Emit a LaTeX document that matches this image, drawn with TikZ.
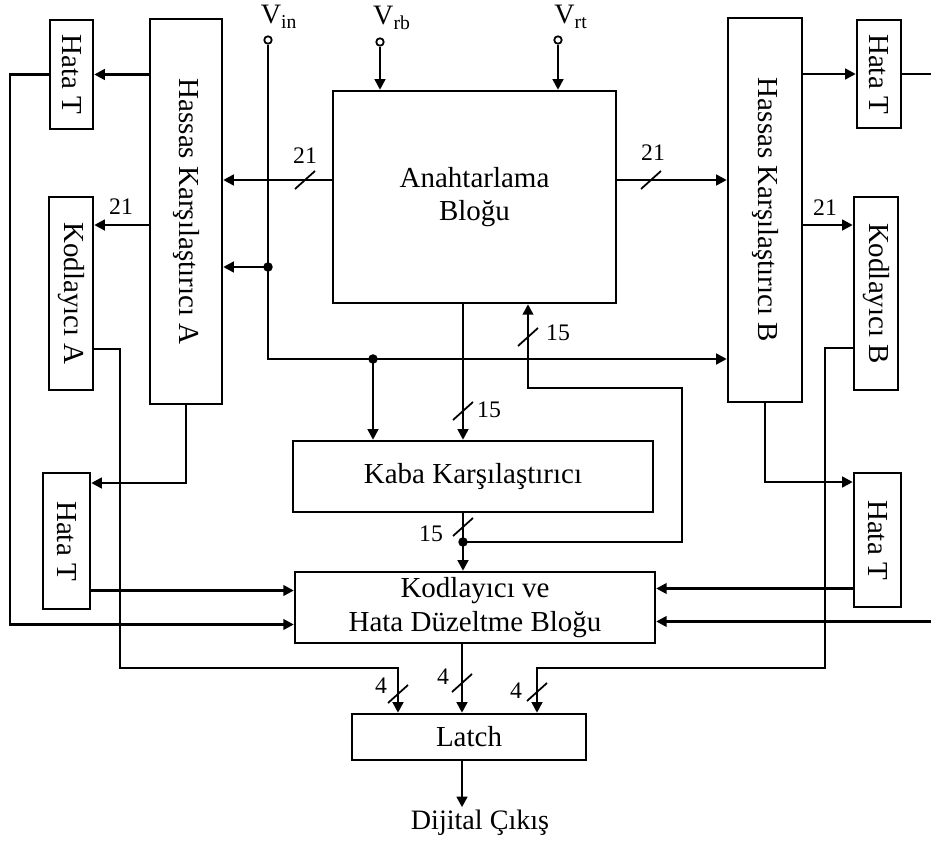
\documentclass[tikz,border=0pt]{standalone}
\usepackage{fontspec}
\usepackage{graphicx}
\setmainfont{Liberation Serif}
\usetikzlibrary{arrows.meta}

\begin{document}
\begin{tikzpicture}[
    x=0.02cm, y=-0.02cm,
    line width=1.4pt,
    box/.style  = {draw, rectangle, inner sep=2pt, align=center,
                   font=\fontsize{16.5}{19}\selectfont},
    arr/.style  = {-{Triangle[length=6pt,width=6pt]}},
    num/.style  = {font=\fontsize{13.5}{15}\selectfont, inner sep=1pt},
    txt/.style  = {font=\fontsize{16}{19}\selectfont, inner sep=1pt},
    vlab/.style = {font=\fontsize{16}{17}\selectfont, inner sep=1pt},
    term/.style = {draw, circle, line width=1pt, inner sep=0pt,
                   minimum size=0.15cm, fill=white},
    dot/.style  = {circle, fill, inner sep=0pt, minimum size=0.19cm},
    bus/.pic    = {\draw[line width=1pt] (-10,9) -- (10,-9);}
  ]
    \useasboundingbox (0,0) rectangle (931,844);

    % blocks
    \node[box, minimum width=5.66cm, minimum height=4.24cm] (anah) at (474.5,197)
          {Anahtarlama\\Bloğu};
    \node[box, minimum width=1.44cm, minimum height=7.7cm]  (hassasA) at (186,211.5)
          {\rotatebox{-90}{Hassas Karşılaştırıcı A}};
    \node[box, minimum width=1.48cm, minimum height=7.68cm] (hassasB) at (765,210)
          {\rotatebox{-90}{Hassas Karşılaştırıcı B}};
    \node[box, minimum width=0.86cm, minimum height=2.18cm] (hataTL) at (71.5,74.5)
          {\rotatebox{-90}{Hata T}};
    \node[box, minimum width=0.88cm, minimum height=2.16cm] (hataTR) at (879,74)
          {\rotatebox{-90}{Hata T}};
    \node[box, minimum width=0.88cm, minimum height=3.86cm] (kodA) at (71,293.5)
          {\rotatebox{-90}{Kodlayıcı A}};
    \node[box, minimum width=0.88cm, minimum height=3.86cm] (kodB) at (876,293.5)
          {\rotatebox{-90}{Kodlayıcı B}};
    \node[box, minimum width=0.94cm, minimum height=2.72cm] (hataBL) at (66.5,541)
          {\rotatebox{-90}{Hata T}};
    \node[box, minimum width=0.94cm, minimum height=2.68cm] (hataBR) at (877.5,540)
          {\rotatebox{-90}{Hata T}};
    \node[box, minimum width=7.2cm, minimum height=1.42cm]  (kaba) at (473,476.5)
          {Kaba Karşılaştırıcı};
    \node[box, minimum width=7.2cm, minimum height=1.42cm]  (kod) at (475,607.5)
          {Kodlayıcı ve\\Hata Düzeltme Bloğu};
    \node[box, minimum width=4.68cm, minimum height=0.92cm] (latch) at (469,737)
          {Latch};
    \node[txt] (out) at (480,823) {Dijital Çıkış};

    % inputs
    \node[term] (vin) at (268,40) {};
    \node[term] (vrb) at (380,42) {};
    \node[term] (vrt) at (558,40) {};
    \node[vlab] (vinL) at (279,17) {V\textsubscript{in}};
    \node[vlab] (vrbL) at (392,18) {V\textsubscript{rb}};
    \node[vlab] (vrtL) at (571,17) {V\textsubscript{rt}};

    % helper points
    \coordinate (lft) at (10,0);
    \coordinate (rgt) at (931,0);
    \coordinate (vinJ1) at (268,267);
    \coordinate (vinJ2) at (373,359);
    \coordinate (busL) at (305,180);
    \coordinate (busR) at (651,180);
    \coordinate (busD) at (463,411);
    \coordinate (busK) at (463,527);
    \coordinate (fb)   at (463,542);
    \coordinate (fbR)  at (682,388);
    \coordinate (busF) at (528,337);
    \coordinate (colA) at (120,668);
    \coordinate (colB) at (825,668);
    \coordinate (busA) at (398,694);
    \coordinate (busM) at (462,683);
    \coordinate (busB) at (537,692);
    \coordinate (kodW1) at ([yshift=0.34cm]kod.west);
    \coordinate (kodW2) at ([yshift=-0.34cm]kod.west);
    \coordinate (kodE1) at ([yshift=0.38cm]kod.east);
    \coordinate (kodE2) at ([yshift=-0.28cm]kod.east);
    \coordinate (kAin)  at ([yshift=1.37cm]kodA.east);
    \coordinate (kBin)  at ([yshift=1.37cm]kodB.west);
    \coordinate (kAout) at ([yshift=-1.11cm]kodA.east);
    \coordinate (kBout) at ([yshift=-1.09cm]kodB.west);
    \coordinate (hBLin) at ([yshift=1.16cm]hataBL.east);
    \coordinate (hBRin) at ([yshift=1.16cm]hataBR.west);

    % reference and input lines
    \draw[arr] (vrb) -- (vrb |- anah.north);
    \draw[arr] (vrt) -- (vrt |- anah.north);
    \draw[arr] (vin) |- (vinJ2 -| hassasB.west);
    \draw[arr] (vinJ1) -- (vinJ1 -| hassasA.east);
    \draw[arr] (vinJ2) -- (vinJ2 |- kaba.north);

    % switching block outputs
    \draw[arr] (busL -| anah.west) -- (busL -| hassasA.east);
    \draw[arr] (busR -| anah.east) -- (busR -| hassasB.west);
    \draw[arr] (busD |- anah.south) -- (busD |- kaba.north);
    \draw[arr] (busK |- kaba.south) -- (busK |- kod.north);
    \draw[arr] (fb) -| (fbR) -| (busF |- anah.south);

    % left side
    \draw[arr] (hataTL.east -| hassasA.west) -- (hataTL.east);
    \draw[arr] (hataTL.west) -| (lft |- kodW2) -- (kodW2);
    \draw[arr] (kAin -| hassasA.west) -- (kAin);
    \draw[arr] (hassasA.south) |- (hBLin);
    \draw[arr] (hataBL.east |- kodW1) -- (kodW1);
    \draw[arr] (kAout) -| (colA) -| (busA |- latch.north);

    % right side
    \draw[arr] (hataTR.west -| hassasB.east) -- (hataTR.west);
    \draw (hataTR.east) -- (hataTR.east -| rgt);
    \draw[arr] (rgt |- kodE2) -- (kodE2);
    \draw[arr] (kBin -| hassasB.east) -- (kBin);
    \draw[arr] (hassasB.south) |- (hBRin);
    \draw[arr] (hataBR.west |- kodE1) -- (kodE1);
    \draw[arr] (kBout) -| (colB) -| (busB |- latch.north);

    % output
    \draw[arr] (busM |- kod.south) -- (busM |- latch.north);
    \draw[arr] (busM |- latch.south) -- (busM |- out.north);

    % junctions
    \node[dot] (d1) at (vinJ1) {};
    \node[dot] (d2) at (vinJ2) {};
    \node[dot] (d3) at (fb) {};

    % bus widths
    \pic at (busL) {bus};
    \pic at (busR) {bus};
    \pic at (busD) {bus};
    \pic at (busK) {bus};
    \pic at (busF) {bus};
    \pic at (busA) {bus};
    \pic at (busM) {bus};
    \pic at (busB) {bus};
    \node[num] (n21L) at (305,156) {21};
    \node[num] (n21R) at (653,153) {21};
    \node[num] (n21A) at (121,207) {21};
    \node[num] (n21B) at (825,208) {21};
    \node[num] (n15F) at (558,333) {15};
    \node[num] (n15D) at (489,410) {15};
    \node[num] (n15K) at (431,534) {15};
    \node[num] (n4A)  at (381,686) {4};
    \node[num] (n4M)  at (443,677) {4};
    \node[num] (n4B)  at (516,691) {4};
\end{tikzpicture}
\end{document}
